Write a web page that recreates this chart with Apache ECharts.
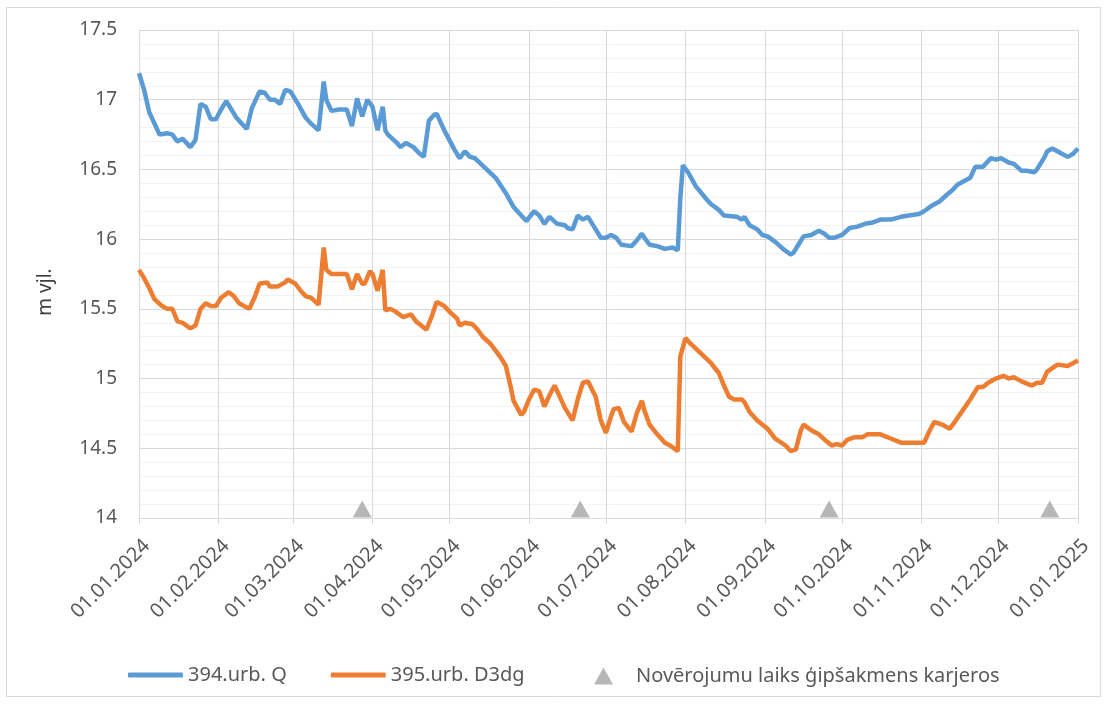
<!DOCTYPE html>
<html>
<head>
<meta charset="utf-8">
<script src="https://cdn.jsdelivr.net/npm/echarts@6/dist/echarts.min.js"></script>
<style>
  html, body { margin: 0; padding: 0; background: #fff; }
  #chart { width: 1108px; height: 704px; }
</style>
</head>
<body>
<div id="chart"></div>
<script>
const seriesNames = ['394.urb. Q', '395.urb. D3dg', 'Novērojumu laiks ģipšakmens karjeros'];

// day offsets from 01.01.2024
const blueDays = [0, 2, 4, 6, 8, 11, 13, 15, 17, 20, 22, 24, 26, 28, 30, 32, 34, 35, 38, 40, 42, 44, 47, 49, 51, 53, 55, 57, 59, 62, 65, 67, 70, 72, 73, 75, 78, 81, 83, 85, 87, 89, 91, 93, 95, 96, 97, 100, 102, 104, 107, 109, 111, 113, 115, 116, 119, 121, 123, 125, 127, 129, 131, 135, 139, 143, 146, 149, 151, 154, 156, 158, 160, 163, 166, 167, 169, 171, 173, 175, 178, 180, 182, 184, 186, 188, 192, 194, 196, 197, 199, 202, 205, 208, 210, 211, 212, 214, 217, 221, 223, 226, 228, 233, 235, 236, 238, 241, 243, 245, 248, 251, 254, 255, 257, 259, 262, 265, 267, 269, 271, 274, 277, 280, 283, 286, 289, 293, 297, 300, 304, 306, 309, 312, 315, 317, 319, 322, 324, 326, 329, 332, 334, 336, 339, 341, 344, 346, 349, 350, 352, 353, 354, 356, 359, 362, 364, 366];
const blueValues = [17.19, 17.07, 16.91, 16.83, 16.75, 16.76, 16.75, 16.70, 16.72, 16.66, 16.71, 16.97, 16.95, 16.86, 16.86, 16.93, 16.99, 16.96, 16.87, 16.83, 16.79, 16.94, 17.06, 17.05, 17.00, 17.00, 16.97, 17.07, 17.06, 16.97, 16.87, 16.83, 16.78, 17.13, 17.00, 16.92, 16.93, 16.93, 16.81, 17.01, 16.88, 17.00, 16.95, 16.78, 16.95, 16.78, 16.75, 16.70, 16.66, 16.69, 16.66, 16.62, 16.59, 16.85, 16.89, 16.90, 16.78, 16.71, 16.64, 16.58, 16.63, 16.59, 16.58, 16.51, 16.44, 16.33, 16.23, 16.17, 16.13, 16.20, 16.17, 16.11, 16.16, 16.11, 16.10, 16.08, 16.07, 16.17, 16.14, 16.16, 16.07, 16.01, 16.01, 16.03, 16.01, 15.96, 15.95, 15.99, 16.04, 16.01, 15.96, 15.95, 15.93, 15.94, 15.92, 16.30, 16.53, 16.48, 16.38, 16.29, 16.25, 16.21, 16.17, 16.16, 16.14, 16.16, 16.10, 16.07, 16.03, 16.02, 15.98, 15.93, 15.89, 15.90, 15.96, 16.02, 16.03, 16.06, 16.04, 16.01, 16.01, 16.03, 16.08, 16.09, 16.11, 16.12, 16.14, 16.14, 16.16, 16.17, 16.18, 16.20, 16.24, 16.27, 16.32, 16.35, 16.39, 16.42, 16.44, 16.52, 16.52, 16.58, 16.57, 16.58, 16.55, 16.54, 16.49, 16.49, 16.48, 16.50, 16.56, 16.59, 16.63, 16.65, 16.62, 16.59, 16.61, 16.65];

const orangeDays = [0, 2, 4, 6, 9, 11, 13, 15, 17, 20, 22, 24, 26, 28, 30, 32, 35, 37, 39, 43, 45, 47, 50, 51, 54, 57, 58, 61, 63, 65, 67, 70, 72, 73, 75, 78, 81, 83, 85, 87, 88, 90, 91, 93, 95, 96, 98, 100, 103, 106, 108, 110, 112, 114, 116, 119, 121, 124, 125, 127, 130, 132, 134, 137, 139, 141, 143, 145, 146, 149, 150, 152, 154, 156, 158, 160, 162, 164, 166, 169, 171, 173, 175, 178, 180, 182, 184, 185, 187, 189, 192, 194, 196, 197, 199, 202, 205, 207, 210, 211, 213, 215, 219, 223, 226, 228, 230, 232, 235, 236, 238, 241, 245, 248, 252, 254, 256, 258, 259, 262, 265, 268, 270, 272, 274, 276, 279, 282, 284, 289, 293, 297, 306, 308, 310, 313, 316, 318, 321, 324, 327, 329, 331, 334, 337, 339, 341, 344, 348, 350, 352, 354, 358, 362, 366];
const orangeValues = [15.78, 15.72, 15.65, 15.57, 15.52, 15.50, 15.50, 15.41, 15.40, 15.36, 15.38, 15.50, 15.54, 15.52, 15.52, 15.58, 15.62, 15.59, 15.54, 15.50, 15.58, 15.68, 15.69, 15.66, 15.66, 15.69, 15.71, 15.68, 15.63, 15.59, 15.58, 15.53, 15.94, 15.78, 15.75, 15.75, 15.75, 15.64, 15.75, 15.68, 15.68, 15.77, 15.75, 15.63, 15.78, 15.49, 15.50, 15.48, 15.44, 15.46, 15.41, 15.38, 15.35, 15.44, 15.55, 15.52, 15.48, 15.43, 15.38, 15.40, 15.39, 15.35, 15.30, 15.25, 15.20, 15.15, 15.09, 14.93, 14.84, 14.74, 14.76, 14.85, 14.92, 14.91, 14.80, 14.88, 14.95, 14.87, 14.79, 14.70, 14.85, 14.97, 14.98, 14.87, 14.70, 14.61, 14.73, 14.78, 14.79, 14.69, 14.62, 14.75, 14.84, 14.77, 14.67, 14.60, 14.54, 14.52, 14.48, 15.16, 15.29, 15.25, 15.18, 15.11, 15.04, 14.95, 14.87, 14.85, 14.85, 14.83, 14.76, 14.70, 14.64, 14.57, 14.52, 14.48, 14.49, 14.63, 14.67, 14.63, 14.60, 14.55, 14.52, 14.53, 14.52, 14.56, 14.58, 14.58, 14.60, 14.60, 14.57, 14.54, 14.54, 14.62, 14.69, 14.67, 14.64, 14.69, 14.77, 14.85, 14.94, 14.94, 14.97, 15.00, 15.02, 15.00, 15.01, 14.98, 14.95, 14.97, 14.97, 15.05, 15.10, 15.09, 15.13];

// observation dates in the gypsum quarry
const obsDates = ['2024-03-28', '2024-06-21', '2024-09-26', '2024-12-21'];
const obsLevel = 14.065;

const textColor = '#595959';
const gridColor = '#d9d9d9';
const font = '"Noto Sans", sans-serif';

function dayToTime(d) {
  return new Date(2024, 0, 1 + d).getTime();
}
function pad(n) {
  return n < 10 ? '0' + n : '' + n;
}

const chart = echarts.init(document.getElementById('chart'));

const option = {
  animation: false,
  backgroundColor: '#fff',
  textStyle: { fontFamily: font },
  graphic: [{
    type: 'rect',
    shape: { x: 6.5, y: 7.5, width: 1094, height: 689 },
    style: { fill: 'none', stroke: gridColor, lineWidth: 1 },
    silent: true
  }],
  grid: { left: 139, right: 30, top: 30, bottom: 186, outerBoundsMode: 'none' },
  legend: [
    {
      data: [
        { name: seriesNames[0], icon: 'roundRect' },
        { name: seriesNames[1], icon: 'roundRect' }
      ],
      left: 123,
      top: 660,
      itemWidth: 55,
      itemHeight: 5,
      itemGap: 44,
      textStyle: { fontSize: 20, color: textColor, fontFamily: font }
    },
    {
      data: [seriesNames[2]],
      left: 589,
      top: 661,
      itemWidth: 19,
      itemHeight: 17,
      textStyle: { fontSize: 20, color: textColor, fontFamily: font, padding: [0, 0, 0, 18] }
    }
  ],
  xAxis: {
    type: 'time',
    min: new Date(2024, 0, 1).getTime(),
    max: new Date(2025, 0, 1).getTime(),
    splitNumber: 12,
    minInterval: 28 * 86400000,
    maxInterval: 31 * 86400000,
    axisLine: { show: true, lineStyle: { color: gridColor } },
    axisTick: { show: true, length: 6, lineStyle: { color: gridColor } },
    splitLine: { show: true, lineStyle: { color: gridColor } },
    axisLabel: {
      rotate: 45,
      margin: 17,
      padding: [22, 0, 0, 0],
      fontSize: 20,
      color: textColor,
      fontFamily: font,
      showMinLabel: true,
      showMaxLabel: true,
      formatter: function (val) {
        const d = new Date(val);
        return pad(d.getDate()) + '.' + pad(d.getMonth() + 1) + '.' + d.getFullYear();
      }
    }
  },
  yAxis: [
    {
      type: 'value',
      min: 14,
      max: 17.5,
      interval: 0.5,
      name: 'm vjl.',
      nameLocation: 'middle',
      nameRotate: 90,
      nameGap: 84,
      nameTextStyle: { fontSize: 19, color: '#404040', fontFamily: font, padding: [0, 36, 0, 0] },
      axisLine: { show: false },
      axisTick: { show: false },
      axisLabel: { margin: 22, fontSize: 19, color: textColor, fontFamily: font },
      splitLine: { show: true, lineStyle: { color: gridColor } },
      minorTick: { show: false, splitNumber: 5 },
      minorSplitLine: { show: true, lineStyle: { color: '#f2f2f2' } }
    },
    {
      // right border line of the plot (the 01.01.2025 grid line)
      type: 'value',
      position: 'right',
      min: 14,
      max: 17.5,
      interval: 0.5,
      axisLine: { show: true, lineStyle: { color: gridColor } },
      axisTick: { show: false },
      axisLabel: { show: false },
      splitLine: { show: false }
    }
  ],
  series: [
    {
      name: seriesNames[0],
      type: 'line',
      showSymbol: false,
      symbol: 'none',
      color: '#5b9bd5',
      lineStyle: { width: 4.5, color: '#5b9bd5' },
      data: blueDays.map((d, i) => [dayToTime(d), blueValues[i]])
    },
    {
      name: seriesNames[1],
      type: 'line',
      showSymbol: false,
      symbol: 'none',
      color: '#ed7d31',
      lineStyle: { width: 4.5, color: '#ed7d31' },
      data: orangeDays.map((d, i) => [dayToTime(d), orangeValues[i]])
    },
    {
      name: seriesNames[2],
      type: 'scatter',
      symbol: 'triangle',
      symbolSize: [19, 17],
      itemStyle: { color: '#a5a5a5' },
      data: obsDates.map(d => [d, obsLevel])
    }
  ]
};

chart.setOption(option);
</script>
</body>
</html>
